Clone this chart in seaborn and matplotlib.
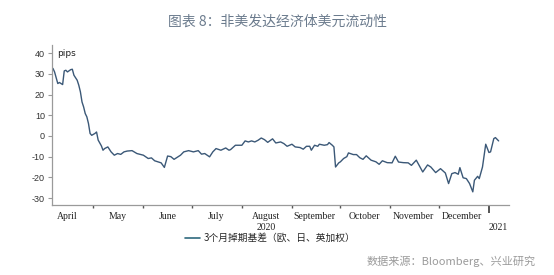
import matplotlib
matplotlib.use("Agg")
import matplotlib.pyplot as plt
import matplotlib.dates as mdates
import matplotlib.transforms as mtransforms
from matplotlib.lines import Line2D
import pandas as pd
import seaborn as sns

# ---- data ----
dates = [
    "2020-04-06", "2020-04-07", "2020-04-09", "2020-04-10", "2020-04-12", "2020-04-13",
    "2020-04-14", "2020-04-15", "2020-04-17", "2020-04-18", "2020-04-19", "2020-04-21",
    "2020-04-22", "2020-04-23", "2020-04-24", "2020-04-25", "2020-04-26", "2020-04-27",
    "2020-04-28", "2020-04-29", "2020-04-30", "2020-05-02", "2020-05-03", "2020-05-04",
    "2020-05-06", "2020-05-07", "2020-05-08", "2020-05-10", "2020-05-12", "2020-05-14",
    "2020-05-16", "2020-05-18", "2020-05-20", "2020-05-22", "2020-05-25", "2020-05-28",
    "2020-06-01", "2020-06-04", "2020-06-06", "2020-06-08", "2020-06-10", "2020-06-12",
    "2020-06-14", "2020-06-16", "2020-06-18", "2020-06-20", "2020-06-22", "2020-06-24",
    "2020-06-26", "2020-06-29", "2020-07-02", "2020-07-05", "2020-07-07", "2020-07-09",
    "2020-07-12", "2020-07-14", "2020-07-16", "2020-07-19", "2020-07-22", "2020-07-24",
    "2020-07-25", "2020-07-28", "2020-08-01", "2020-08-03", "2020-08-05", "2020-08-07",
    "2020-08-09", "2020-08-11", "2020-08-13", "2020-08-15", "2020-08-17", "2020-08-20",
    "2020-08-22", "2020-08-25", "2020-08-27", "2020-08-29", "2020-09-01", "2020-09-03",
    "2020-09-06", "2020-09-08", "2020-09-10", "2020-09-12", "2020-09-13", "2020-09-15",
    "2020-09-17", "2020-09-18", "2020-09-21", "2020-09-23", "2020-09-24", "2020-09-26",
    "2020-09-27", "2020-09-28", "2020-09-30", "2020-10-01", "2020-10-03", "2020-10-05",
    "2020-10-06", "2020-10-09", "2020-10-11", "2020-10-13", "2020-10-15", "2020-10-17",
    "2020-10-20", "2020-10-23", "2020-10-25", "2020-10-27", "2020-10-30", "2020-11-02",
    "2020-11-04", "2020-11-06", "2020-11-09", "2020-11-12", "2020-11-14", "2020-11-17",
    "2020-11-19", "2020-11-21", "2020-11-24", "2020-11-26", "2020-11-29", "2020-12-02",
    "2020-12-05", "2020-12-07", "2020-12-09", "2020-12-11", "2020-12-13", "2020-12-14",
    "2020-12-16", "2020-12-18", "2020-12-20", "2020-12-22", "2020-12-23", "2020-12-25",
    "2020-12-26", "2020-12-28", "2020-12-30", "2021-01-01", "2021-01-02", "2021-01-04",
    "2021-01-05", "2021-01-07",
]
basis = [
    32.6, 30.9, 25.3, 25.8, 24.8, 31.4,
    31.7, 30.9, 32.0, 32.2, 29.3, 26.9,
    24.5, 21.3, 16.4, 14.0, 10.8, 9.2,
    6.0, 1.2, 0.3, 1.2, 1.9, -2.0,
    -4.8, -6.9, -6.1, -5.3, -7.7, -9.3,
    -8.5, -8.9, -7.7, -7.3, -7.1, -8.5,
    -9.3, -10.9, -10.6, -12.0, -12.5, -13.0,
    -15.2, -9.7, -10.0, -11.3, -10.3, -9.3,
    -7.7, -7.1, -7.7, -7.1, -8.8, -8.5,
    -10.1, -7.7, -6.1, -6.9, -5.8, -6.9,
    -6.6, -4.5, -4.5, -2.4, -2.9, -2.4,
    -2.9, -2.1, -1.0, -1.8, -3.1, -1.4,
    -3.4, -2.9, -3.7, -5.0, -4.0, -5.3,
    -5.6, -6.4, -5.0, -5.0, -6.9, -4.5,
    -5.0, -4.0, -4.5, -4.2, -3.2, -4.5,
    -5.3, -15.0, -13.0, -12.5, -10.9, -10.0,
    -8.2, -9.0, -9.0, -10.5, -11.3, -9.6,
    -11.7, -12.5, -13.7, -12.0, -12.9, -13.0,
    -9.8, -12.6, -12.9, -13.0, -14.2, -11.7,
    -14.5, -17.4, -14.0, -15.0, -17.7, -15.8,
    -17.9, -23.0, -18.2, -17.7, -18.5, -15.3,
    -20.2, -20.6, -23.0, -27.0, -21.4, -19.5,
    -20.6, -15.0, -4.0, -8.0, -7.7, -1.3,
    -0.8, -2.4,
]
month_labels = ["April", "May", "June", "July", "August", "September",
                "October", "November", "December"]
month_label_dates = ["2020-04-15", "2020-05-16", "2020-06-16", "2020-07-16", "2020-08-16",
                     "2020-09-15", "2020-10-16", "2020-11-15", "2020-12-15"]
month_tick_dates = ["2020-05-01", "2020-06-01", "2020-07-01", "2020-08-01", "2020-09-01",
                    "2020-10-01", "2020-11-01", "2020-12-01", "2021-01-01"]
year_labels = ["2020", "2021"]
year_label_dates = ["2020-08-16", "2021-01-07"]
y_ticks = [-30, -20, -10, 0, 10, 20, 30, 40]
series_name = "3个月掉期基差（欧、日、英加权）"
title_text = "图表 8：非美发达经济体美元流动性"
source_text = "数据来源：Bloomberg、兴业研究"
unit_text = "pips"

df = pd.DataFrame({"date": pd.to_datetime(dates), "basis": basis})

sns.set_theme(style="white")
plt.rcParams["font.family"] = ["DejaVu Sans", "Noto Sans CJK SC"]

W, H = 554, 275
fig = plt.figure(figsize=(W / 100, H / 100), dpi=100)
fig.patch.set_facecolor("white")
ax = fig.add_axes([52 / W, (H - 204.7) / H, (509 - 52) / W, (204.7 - 45) / H])

line_color = "#3b5877"
sns.lineplot(data=df, x="date", y="basis", ax=ax, color=line_color, linewidth=1.0,
             legend=False)

ax.set_xlim(pd.Timestamp("2020-04-05 10:00"), pd.Timestamp("2021-01-13 10:00"))
ax.set_ylim(-33.2, 43.9)
ax.set_xlabel("")
ax.set_ylabel("")

for s in ["top", "right"]:
    ax.spines[s].set_visible(False)
spine_col = "#9a9a9a"
for s in ["left", "bottom"]:
    ax.spines[s].set_color(spine_col)
    ax.spines[s].set_linewidth(0.9)

# y axis
ax.set_yticks(y_ticks)
ax.set_yticklabels([str(v) for v in y_ticks], fontsize=6.5, color="#333333",
                   family="Liberation Sans")
ax.tick_params(axis="y", direction="out", length=3, width=0.8, color=spine_col, pad=2,
               left=True)

# x axis: month-boundary ticks, mid-month labels
ax.set_xticks(pd.to_datetime(month_tick_dates))
ax.set_xticklabels([""] * len(month_tick_dates))
ax.tick_params(axis="x", which="major", direction="out", length=2.5, width=1.0,
               color="#555555", bottom=True)
ax.set_xticks(pd.to_datetime(month_label_dates), minor=True)
ax.set_xticklabels(month_labels, minor=True, fontsize=7, family="Liberation Serif",
                   color="#222222")
ax.tick_params(axis="x", which="minor", length=0, pad=5)
last_tick = ax.xaxis.get_major_ticks()[-1]
last_tick.tick1line.set_markersize(6)
last_tick.tick1line.set_markeredgewidth(1.4)

trans = mtransforms.blended_transform_factory(ax.transData, fig.transFigure)
for lab, d in zip(year_labels, year_label_dates):
    ax.text(mdates.date2num(pd.Timestamp(d)), 1 - 227 / H, lab, transform=trans,
            ha="center", va="center", fontsize=7, family="Liberation Serif",
            color="#222222")

# unit label
fig.text(57 / W, 1 - 53 / H, unit_text, fontsize=6.5, ha="left", va="center",
         color="#222222")

# title
fig.text(0.5, 1 - 22 / H, title_text, fontsize=10, ha="center", va="center",
         color="#6b7b8d", family=["Noto Sans CJK SC", "DejaVu Sans"])

# legend
handle = Line2D([], [], color="#2f6a7e", linewidth=1.2)
fig.legend([handle], [series_name], loc="center", bbox_to_anchor=(270 / W, 1 - 238 / H),
           frameon=False, handlelength=1.6, handletextpad=0.3,
           prop={"family": ["Noto Sans CJK SC", "DejaVu Sans"], "size": 7})

# source
fig.text(536 / W, 1 - 261 / H, source_text, fontsize=8, ha="right", va="center",
         color="#9b9b9b", family=["Noto Sans CJK SC", "DejaVu Sans"])

fig.savefig("out.png", dpi=100, facecolor="white")
